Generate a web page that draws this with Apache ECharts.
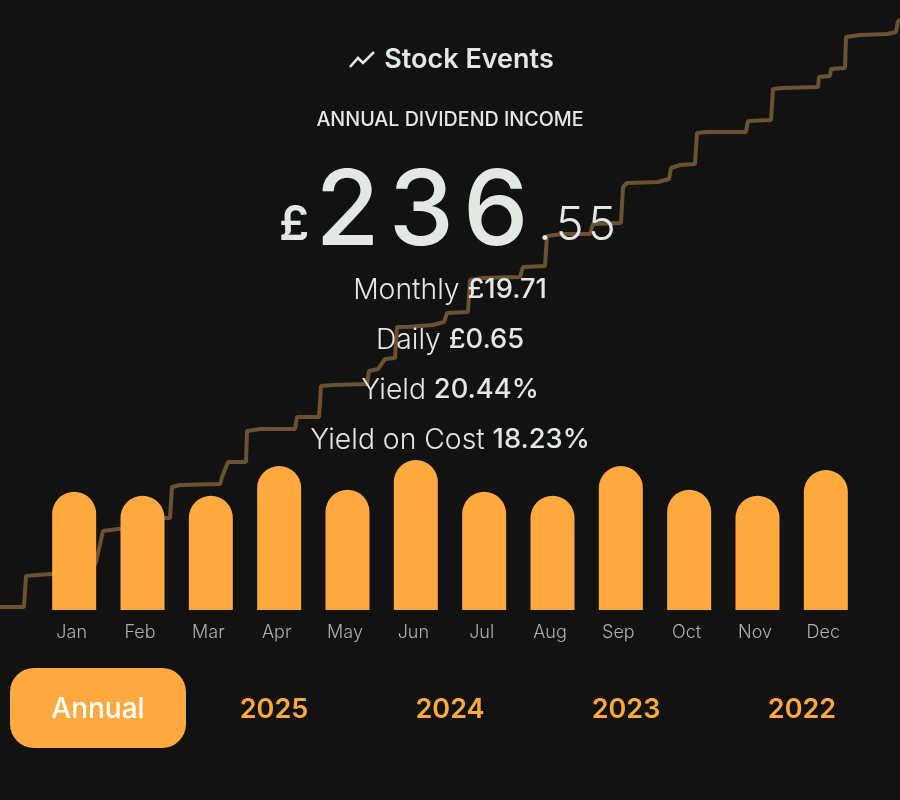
<!DOCTYPE html>
<html>
<head>
<meta charset="utf-8">
<title>Stock Events</title>
<style>
  html, body { margin: 0; padding: 0; background: #121212; }
  #chart { width: 900px; height: 800px; }
</style>
<script src="https://cdn.jsdelivr.net/npm/echarts@6/dist/echarts.min.js"></script>
</head>
<body>
<div id="chart"></div>
<script>
var months = ['Jan', 'Feb', 'Mar', 'Apr', 'May', 'Jun', 'Jul', 'Aug', 'Sep', 'Oct', 'Nov', 'Dec'];
var monthlyIncome = [17.8, 17.2, 17.2, 21.7, 18.1, 22.6, 17.8, 17.2, 21.7, 18.1, 17.2, 21.1];

// background step line
var stepX = [0, 24, 26, 37, 52, 90, 96, 98, 103, 118, 150, 160, 170, 172, 180, 220, 222, 228, 246, 247, 260, 295, 297, 319, 321, 333, 367, 369, 378, 385, 395, 397, 407, 433, 444, 447, 468, 470, 483, 520, 523, 545, 547, 563, 590, 593, 621, 623, 627, 658, 669, 671, 680, 695, 697, 707, 746, 748, 771, 773, 783, 818, 819, 830, 831, 845, 846, 860, 887, 896, 898, 900];
var stepY = [3, 3, 34, 35, 36, 36, 48, 48, 79, 81, 81, 92, 92, 123, 125, 126, 133, 148, 148, 179, 181, 181, 193, 193, 224, 225, 226, 239, 241, 251, 252, 283, 283, 285, 288, 297, 298, 330, 332, 333, 343, 344, 374, 376, 376, 386, 387, 423, 427, 428, 431, 442, 445, 446, 477, 478, 478, 489, 490, 521, 522, 523, 533, 534, 541, 542, 573, 575, 576, 578, 589, 590];

var summaryLabels = ['Monthly', 'Daily', 'Yield', 'Yield on Cost'];
var summaryValues = ['£19.71', '£0.65', '20.44%', '18.23%'];
var yearTabs = ['2025', '2024', '2023', '2022'];

var FONT = 'Inter';
var TEXT = '#e3e8e4';
var ORANGE = '#ffaa40';
var HAIR = '\u200a';

function label(x, y, text, size, weight, fill) {
  return {
    type: 'text',
    z: 100,
    silent: true,
    style: {
      x: x,
      y: y,
      text: text,
      fill: fill || TEXT,
      fontFamily: FONT,
      fontSize: size,
      fontWeight: weight,
      align: 'center',
      verticalAlign: 'middle'
    }
  };
}

var graphics = [];

// title icon
graphics.push({
  type: 'polyline',
  z: 100,
  silent: true,
  shape: { points: [[350, 67], [358, 58], [363, 63], [374, 52]] },
  style: { stroke: TEXT, lineWidth: 2.6, fill: null }
});
graphics.push(label(469, 60, 'Stock Events', 27, 600));
graphics.push(label(450, 120, 'ANNUAL DIVIDEND INCOME', 19.7, 500));

// headline number, the hair spaces open it up like the original
graphics.push(label(294, 226, '£', 48, 600));
graphics.push(label(422, 214, '2' + HAIR + '3' + HAIR + '6', 104, 500));
graphics.push(label(577, 226, '.' + HAIR + '5' + HAIR + '5', 47, 300));

// summary rows
var rich = {
  l: { fontFamily: FONT, fontSize: 28.3, fontWeight: 300, fill: TEXT, color: TEXT },
  v: { fontFamily: FONT, fontSize: 27.3, fontWeight: 500, fill: TEXT, color: TEXT }
};
summaryLabels.forEach(function (name, i) {
  graphics.push({
    type: 'text',
    z: 100,
    silent: true,
    style: {
      x: 450,
      y: 290 + i * 50,
      text: '{l|' + name + '} {v|' + summaryValues[i] + '}',
      rich: rich,
      fontFamily: FONT,
      fontSize: 28,
      fill: TEXT,
      align: 'center',
      verticalAlign: 'middle'
    }
  });
});

// period tabs
graphics.push({
  type: 'rect',
  z: 90,
  silent: true,
  shape: { x: 10, y: 668, width: 176, height: 80, r: 24 },
  style: { fill: ORANGE }
});
graphics.push(label(98, 710, 'Annual', 28, 500, '#ffffff'));
yearTabs.forEach(function (year, i) {
  graphics.push(label(274 + i * 176, 710, year, 27, 600, ORANGE));
});

var chart = echarts.init(document.getElementById('chart'));
chart.setOption({
  backgroundColor: '#121212',
  animation: false,
  grid: [
    { left: 40, right: 40, top: 460, height: 150 },
    { left: 0, right: 0, top: 0, height: 610 }
  ],
  xAxis: [
    {
      type: 'category',
      gridIndex: 0,
      data: months,
      axisLine: { show: false },
      axisTick: { show: false },
      axisLabel: { color: '#b0b0b0', fontFamily: FONT, fontSize: 18, fontWeight: 300, margin: 14, padding: [0, 5, 0, 0] }
    },
    { type: 'value', gridIndex: 1, min: 0, max: 900, show: false }
  ],
  yAxis: [
    { type: 'value', gridIndex: 0, min: 0, max: 22.6, show: false },
    { type: 'value', gridIndex: 1, min: 0, max: 610, show: false }
  ],
  series: [
    {
      type: 'line',
      xAxisIndex: 1,
      yAxisIndex: 1,
      z: 1,
      symbol: 'none',
      lineStyle: { color: '#6b5233', width: 4 },
      data: stepX.map(function (x, i) { return [x, stepY[i]]; })
    },
    {
      type: 'bar',
      xAxisIndex: 0,
      yAxisIndex: 0,
      z: 5,
      barWidth: 44,
      itemStyle: { color: ORANGE, borderRadius: [22, 22, 0, 0] },
      data: monthlyIncome
    }
  ],
  graphic: graphics
});
</script>
</body>
</html>
